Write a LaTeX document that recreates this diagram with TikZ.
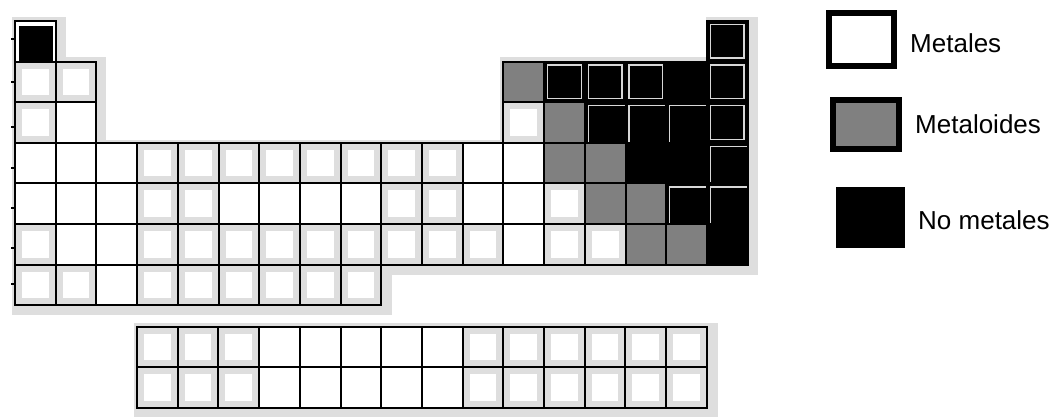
\documentclass[tikz,border=0pt]{standalone}
\usepackage{fontspec}
\setmainfont{Liberation Sans}
\definecolor{metaloidGray}{RGB}{128,128,128}
\definecolor{haloGray}{RGB}{222,222,222}
\definecolor{frameGray}{RGB}{215,215,215}

\tikzset{
  cell/.style={draw=black, line width=2pt, minimum width=40.7pt, minimum height=40.6pt,
    inner sep=0pt, outer sep=0pt},
  kind p/.style={fill=white},
  kind r/.style={fill=haloGray, path picture={
    \fill[white] ([shift={(7pt,7pt)}]path picture bounding box.south west)
      rectangle ([shift={(-7pt,-7pt)}]path picture bounding box.north east);}},
  kind g/.style={fill=metaloidGray},
  kind n/.style={fill=black},
  kind nf/.style={fill=black, path picture={
    \draw[frameGray, line width=1.3pt] ([shift={(3.5pt,3.5pt)}]path picture bounding box.south west)
      rectangle ([shift={(-3.5pt,-3.5pt)}]path picture bounding box.north east);}},
  kind nl/.style={fill=black, path picture={
    \draw[frameGray, line width=1.3pt] ([shift={(3.5pt,0pt)}]path picture bounding box.south west)
      |- ([shift={(0pt,-3.5pt)}]path picture bounding box.north east);}},
  kind h/.style={fill=white, path picture={
    \fill[black] ([shift={(3.5pt,0pt)}]path picture bounding box.south west)
      rectangle ([shift={(-3pt,-5.5pt)}]path picture bounding box.north east);}},
  legbox/.style={draw=black, line width=6pt, inner sep=0pt},
  leglabel/.style={anchor=base west, inner sep=0pt, font=\fontsize{26}{31}\selectfont}
}

\begin{document}
\begin{tikzpicture}[x=1pt, y=-1pt]
\useasboundingbox (0,0) rectangle (1054,417);
\def\cw{40.7}
\def\rh{40.6}

% grey halo round the table
\begin{scope}[shift={(3,3)}]
\fill[haloGray] (15,21) -- (56,21) -- (56,61) -- (96,61) -- (96,143) -- (503,143) -- (503,61)
  -- (709,61) -- (709,21) -- (748,21) -- (748,265) -- (382,265) -- (382,305) -- (15,305) -- cycle;
\draw[haloGray, line width=13pt] (15,21) -- (56,21) -- (56,61) -- (96,61) -- (96,143) -- (503,143) -- (503,61)
  -- (709,61) -- (709,21) -- (748,21) -- (748,265) -- (382,265) -- (382,305) -- (15,305) -- cycle;
\fill[haloGray] (137,326) rectangle (708,407);
\draw[haloGray, line width=13pt] (137,326) rectangle (708,407);
\end{scope}

% main table
\foreach \r/\cells in {
  1/{1/h,18/nf},
  2/{1/r,2/r,13/g,14/nf,15/nf,16/nf,17/n,18/nf},
  3/{1/r,2/p,13/r,14/g,15/nl,16/nl,17/nl,18/nf},
  4/{1/p,2/p,3/p,4/r,5/r,6/r,7/r,8/r,9/r,10/r,11/r,12/p,13/p,14/g,15/g,16/n,17/n,18/nl},
  5/{1/p,2/p,3/p,4/r,5/r,6/p,7/p,8/p,9/p,10/r,11/r,12/p,13/p,14/r,15/g,16/g,17/nl,18/nl},
  6/{1/r,2/p,3/p,4/r,5/r,6/r,7/r,8/r,9/r,10/r,11/r,12/r,13/p,14/r,15/r,16/g,17/g,18/n},
  7/{1/r,2/r,3/p,4/r,5/r,6/r,7/r,8/r,9/r}}
  \foreach \c/\t in \cells
    \node[cell, kind \t] (e\r-\c) at ({15+(\c-0.5)*\cw},{21+(\r-0.5)*\rh}) {};

% lanthanides and actinides
\foreach \r in {1,2}
  \foreach \c/\t in {1/r,2/r,3/r,4/p,5/p,6/p,7/p,8/p,9/r,10/r,11/r,12/r,13/r,14/r}
    \node[cell, kind \t] (f\r-\c) at ({137+(\c-0.5)*\cw},{326.5+(\r-0.5)*\rh}) {};

% ticks on the left edge
\foreach \ty in {39,82,127,168,208,248,284}
  \draw[line width=1.8pt] (11,\ty) -- (15,\ty);

% legend
\node[legbox, fill=white, minimum width=65pt, minimum height=53pt] (legMetal) at (861.5,39.5) {};
\node[legbox, fill=metaloidGray, minimum width=66pt, minimum height=49pt] (legMetaloid) at (866,124.5) {};
\node[fill=black, inner sep=0pt, minimum width=69pt, minimum height=61pt] (legNonmetal) at (870.5,217.5) {};
\node[leglabel] (txtMetal) at (910,53) {Metales};
\node[leglabel] (txtMetaloid) at (915,133) {Metaloides};
\node[leglabel] (txtNonmetal) at (918,229) {No metales};
\end{tikzpicture}
\end{document}
